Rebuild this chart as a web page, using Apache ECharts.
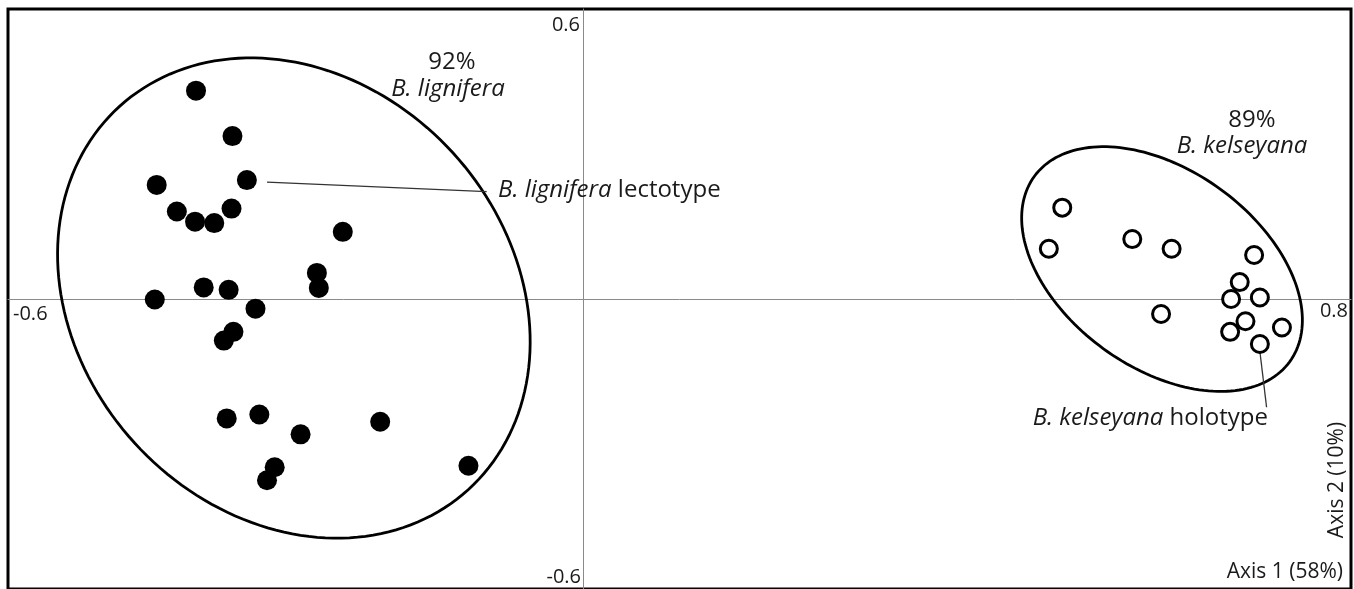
<!DOCTYPE html>
<html><head><meta charset="utf-8">
<script src="https://cdn.jsdelivr.net/npm/echarts/dist/echarts.min.js"></script>
<style>html,body{margin:0;padding:0;background:#fff}#c{width:1354px;height:589px}</style>
</head><body><div id="c"></div>
<script>
// B. lignifera (filled) scores [axis1, axis2]
const lignifera = [[-0.404,0.431],[-0.366,0.337],[-0.445,0.236],[-0.351,0.246],[-0.424,0.181],[-0.405,0.160],[-0.385,0.157],[-0.367,0.187],[-0.251,0.139],[-0.278,0.054],[-0.276,0.023],[-0.396,0.024],[-0.370,0.019],[-0.447,-0.001],[-0.342,-0.020],[-0.365,-0.068],[-0.375,-0.086],[-0.372,-0.247],[-0.338,-0.239],[-0.295,-0.280],[-0.212,-0.254],[-0.322,-0.348],[-0.330,-0.375],[-0.120,-0.345]];
// B. kelseyana (open) scores
const kelseyana = [[0.499,0.189],[0.485,0.104],[0.572,0.124],[0.613,0.104],[0.699,0.091],[0.684,0.035],[0.675,0.000],[0.705,0.003],[0.602,-0.031],[0.690,-0.046],[0.674,-0.068],[0.728,-0.059],[0.705,-0.093]];
// ellipses: [centerX, centerY, axisU_x, axisU_y, axisV_x, axisV_y] in data units
const ellipses = [[-0.302,0.002,0.182,-0.396,-0.166,-0.300],[0.603,0.062,0.133,-0.192,-0.061,-0.165]];
// leader lines in data units
const leaderLectotype = [[-0.330,0.242],[-0.101,0.222]];
const leaderHolotype = [[0.703,-0.075],[0.712,-0.224]];
const xTickLabels = ['-0.6','0.8'];
const yTickLabels = ['0.6','-0.6'];
const axisTitles = ['Axis 1 (58%)','Axis 2 (10%)'];

const FF = '"Open Sans", "Noto Sans", sans-serif';
const chart = echarts.init(document.getElementById('c'), null, {renderer:'canvas'});
function txt(x,y,text,align,size,extra){
  return Object.assign({type:'text', x:x, y:y, z:10, style:{text:text, fill:'#1a1a1a', font: size+'px '+FF, textAlign:align, textVerticalAlign:'middle', rich:{i:{fontStyle:'italic', fontSize:size, fontFamily:FF, fill:'#1a1a1a'}, n:{fontSize:size, fontFamily:FF, fill:'#1a1a1a'}}}}, extra||{});
}
chart.setOption({
  animation:false,
  backgroundColor:'#fff',
  grid:{left:8, right:3, top:9, bottom:0, show:true, borderColor:'#000', borderWidth:3},
  xAxis:{type:'value', min:-0.6, max:0.8, interval:0.2, splitLine:{show:false}, axisTick:{show:false}, axisLabel:{show:false},
    axisLine:{show:true, onZero:true, lineStyle:{color:'#8a8a8a', width:1}}},
  yAxis:{type:'value', min:-0.6, max:0.6, interval:0.2, splitLine:{show:false}, axisTick:{show:false}, axisLabel:{show:false},
    axisLine:{show:true, onZero:true, lineStyle:{color:'#8a8a8a', width:1}}},
  series:[
    {type:'custom', z:1, clip:false, data:ellipses, dimensions:['cx','cy','ux','uy','vx','vy'], encode:{x:0,y:1},
      renderItem:function(params, api){
        const cx=api.value(0), cy=api.value(1), ux=api.value(2), uy=api.value(3), vx=api.value(4), vy=api.value(5);
        const pts=[];
        for(let i=0;i<=180;i++){const t=i/180*2*Math.PI; pts.push(api.coord([cx+ux*Math.cos(t)+vx*Math.sin(t), cy+uy*Math.cos(t)+vy*Math.sin(t)]));}
        return {type:'polyline', shape:{points:pts}, style:{stroke:'#000', lineWidth:2.8, fill:'none'}};
      }},
    {type:'line', z:2, data:leaderLectotype, symbol:'none', lineStyle:{color:'#333', width:1.3}},
    {type:'line', z:2, data:leaderHolotype, symbol:'none', lineStyle:{color:'#333', width:1.3}},
    {type:'scatter', z:3, data:lignifera, symbol:'circle', symbolSize:20, itemStyle:{color:'#000', opacity:1}},
    {type:'scatter', z:3, data:kelseyana, symbol:'circle', symbolSize:17, itemStyle:{color:'#fff', borderColor:'#000', borderWidth:3, opacity:1}}
  ],
  graphic:[
    txt(580,25,yTickLabels[0],'right',20),
    txt(581,577,yTickLabels[1],'right',20),
    txt(13,314,xTickLabels[0],'left',20),
    txt(1348,311,xTickLabels[1],'right',20),
    txt(1343,572,axisTitles[0],'right',21),
    txt(1337,480,axisTitles[1],'center',21,{rotation:Math.PI/2}),
    txt(452,62,'92%','center',24),
    txt(448,89,'{i|B. lignifera}','center',24),
    txt(498,190,'{i|B. lignifera}{n| lectotype}','left',24),
    txt(1252,120,'89%','center',24),
    txt(1242,146,'{i|B. kelseyana}','center',24),
    txt(1268,418,'{i|B. kelseyana}{n| holotype}','right',24)
  ]
});
</script></body></html>
